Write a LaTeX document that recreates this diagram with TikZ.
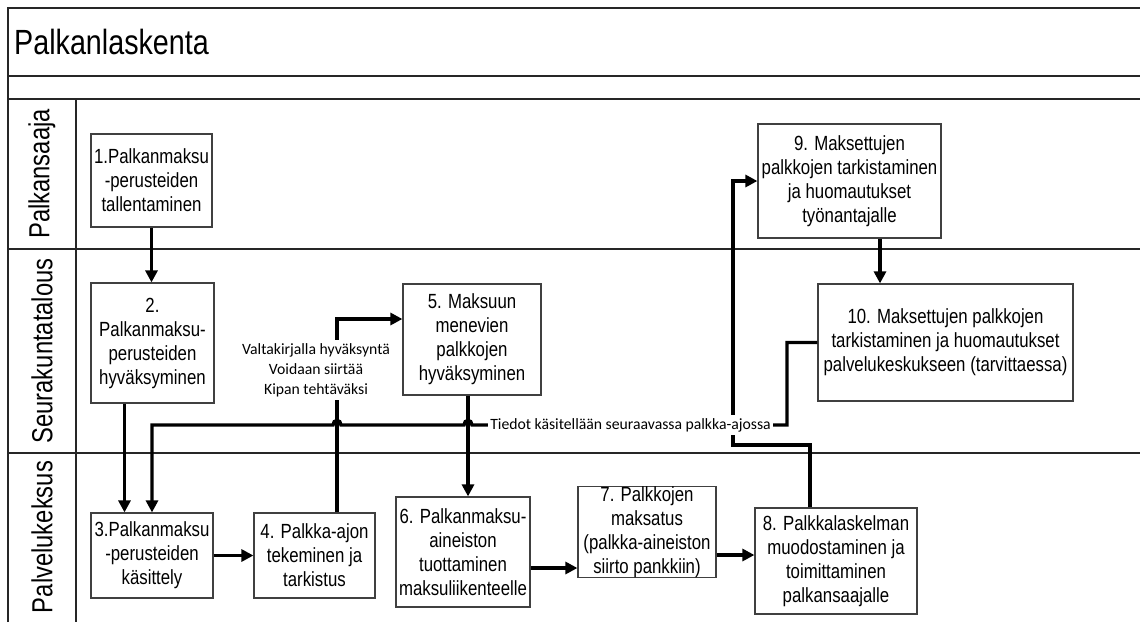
\documentclass[tikz,border=0pt]{standalone}
\usepackage{fontspec}
\setmainfont{Liberation Sans}[FakeStretch=0.82]
\newfontfamily\notefont{Carlito}
\usetikzlibrary{arrows.meta}
\begin{document}
\begin{tikzpicture}[x=1pt,y=-1pt,
  frame/.style={draw=black!85, line width=1.4pt},
  task/.style={draw=black!75, line width=1.2pt, fill=white, align=center,
    inner sep=0pt, font=\fontsize{20.5}{24}\selectfont},
  flow/.style={line width=3.4pt, -{Triangle[length=12pt,width=12pt]}},
  note/.style={fill=white, align=center, inner xsep=2pt, inner ysep=3pt,
    font=\notefont\fontsize{15.7}{20}\selectfont},
  lane/.style={rotate=90, inner sep=0pt, font=\fontsize{29}{34}\selectfont}]
\useasboundingbox (0,0) rectangle (1140,622);

% pool frame and swimlanes
\draw[frame] (8,622) -- (8,8) -- (1140,8);
\draw[frame] (8,76) -- (1140,76);
\draw[frame] (8,99) -- (1140,99);
\draw[frame] (8,249) -- (1140,249);
\draw[frame] (8,453) -- (1140,453);
\draw[frame] (76,99) -- (76,622);

\node[anchor=west, inner sep=0pt, font=\fontsize{35}{40}\selectfont] (title) at (14,42) {Palkanlaskenta};
\node[lane] (lane1) at (42,174) {Palkansaaja};
\node[lane] (lane2) at (42,351) {Seurakuntatalous};
\node[lane] (lane3) at (42,537) {Palvelukeksus};

% process steps
\node[task, minimum width=121pt, minimum height=93pt] (b1) at (151.5,180.5)
  {1.Palkanmaksu\\-perusteiden\\tallentaminen};
\node[task, minimum width=123pt, minimum height=120pt] (b2) at (152.5,343)
  {2.\\Palkanmaksu-\\perusteiden\\hyväksyminen};
\node[task, minimum width=122pt, minimum height=85pt] (b3) at (152,555.5)
  {3.Palkanmaksu\\-perusteiden\\käsittely};
\node[task, minimum width=121pt, minimum height=85pt] (b4) at (314.5,555.5)
  {4. Palkka-ajon\\tekeminen ja\\tarkistus};
\node[task, minimum width=138pt, minimum height=111pt] (b5) at (472,339.5)
  {5. Maksuun\\menevien\\palkkojen\\hyväksyminen};
\node[task, minimum width=134pt, minimum height=110pt] (b6) at (463,552)
  {6. Palkanmaksu-\\aineiston\\tuottaminen\\maksuliikenteelle};
\node[task, minimum width=138pt, minimum height=90pt] (b7) at (647,532)
  {7. Palkkojen\\maksatus\\(palkka-aineiston\\siirto pankkiin)};
\node[task, minimum width=162pt, minimum height=106pt] (b8) at (836,561)
  {8. Palkkalaskelman\\muodostaminen ja\\toimittaminen\\palkansaajalle};
\node[task, minimum width=183pt, minimum height=114pt] (b9) at (849.5,181)
  {9. Maksettujen\\palkkojen tarkistaminen\\ja huomautukset\\työnantajalle};
\node[task, minimum width=255pt, minimum height=117pt] (b10) at (945.5,342.5)
  {10. Maksettujen palkkojen\\tarkistaminen ja huomautukset\\palvelukeskukseen (tarvittaessa)};

% vertical connector positions
\coordinate (v2) at (124.5,0);
\coordinate (v3) at (152,0);
\coordinate (v4) at (337,0);
\coordinate (v5) at (468,0);
\coordinate (v8) at (810,0);
\coordinate (v9) at (880,0);

% connectors
\draw[flow] (b1.south) -- (b1.south |- b2.north);
\draw[flow] (v2 |- b2.south) -- (v2 |- b3.north);
\draw[flow] (b3.east) -- (b4.west);
\draw[flow] (v4 |- b4.north) -- (337,319) -- (b5.west |- 0,319);
\draw[flow] (v5 |- b5.south) -- (v5 |- b6.north);
\draw[flow] (b6.east |- 0,568) -- (b7.west |- 0,568);
\draw[flow] (b7.east |- 0,555) -- (b8.west |- 0,555);
\draw[flow] (v8 |- b8.north) -- (810,445) -- (733,445) -- (733,181) -- (b9.west |- 0,181);
\draw[flow] (v9 |- b9.south) -- (v9 |- b10.north);
\draw[flow] (b10.west) -- (787,342.5) -- (787,425) -- (472,425)
  .. controls (472,419) and (464,419) .. (464,425) -- (341,425)
  .. controls (341,419) and (333,419) .. (333,425) -- (152,425) -- (v3 |- b3.north);

% annotations
\node[note] (n1) at (316,370) {Valtakirjalla hyväksyntä\\Voidaan siirtää\\Kipan tehtäväksi};
\node[note] (n2) at (630.5,425) {Tiedot käsitellään seuraavassa palkka-ajossa};
\end{tikzpicture}
\end{document}
